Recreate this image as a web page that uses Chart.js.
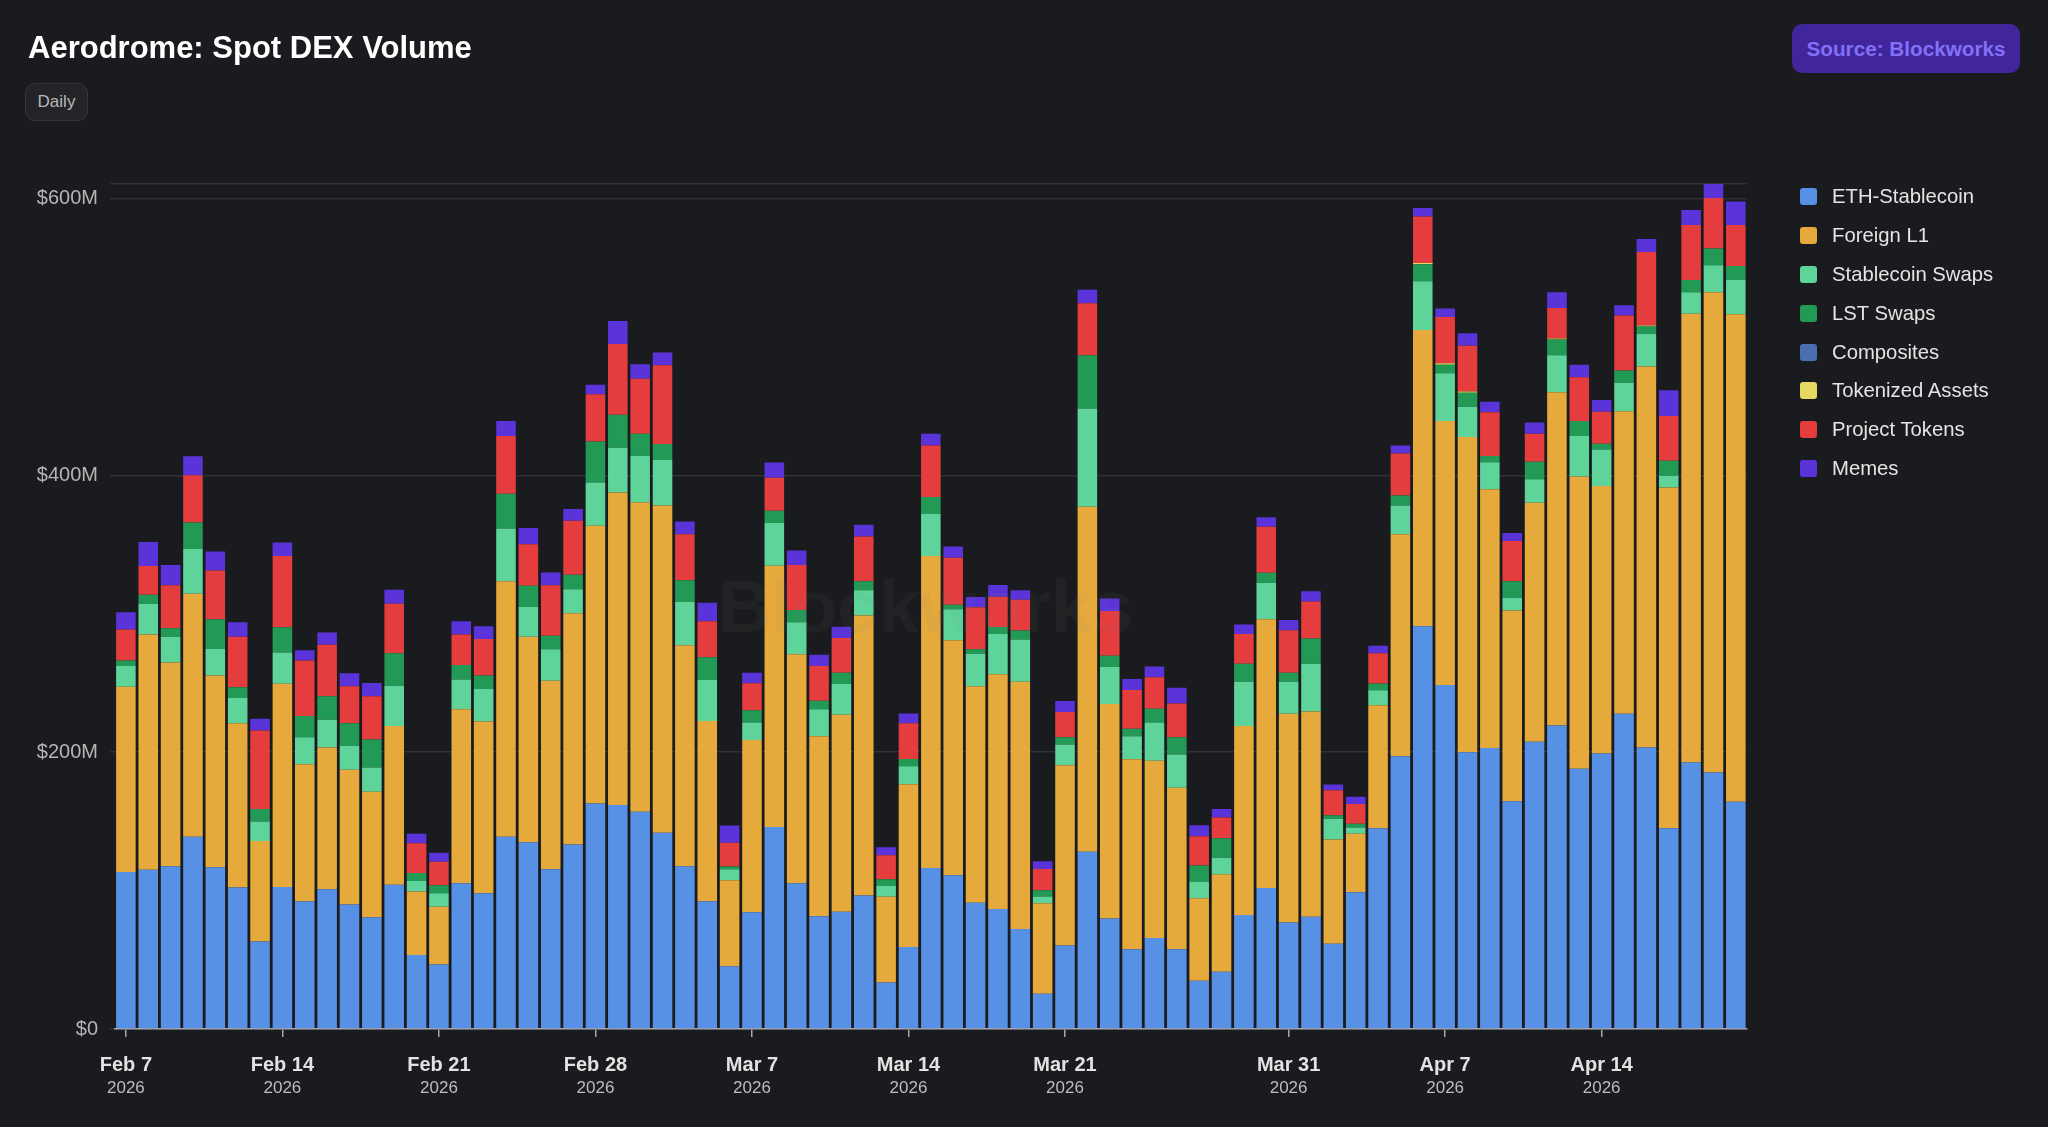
<!DOCTYPE html>
<html>
<head>
<meta charset="utf-8">
<title>Aerodrome: Spot DEX Volume</title>
<script src="https://cdn.jsdelivr.net/npm/chart.js@4"></script>
<style>
  html, body { margin: 0; padding: 0; background: #1a1b1e; }
  body { width: 2048px; height: 1127px; position: relative; overflow: hidden; font-family: "Liberation Sans", Arial, sans-serif; }
  #chart { position: absolute; left: 0; top: 0; }
  .title { position: absolute; left: 28px; top: 29px; font-size: 31px; line-height: 38px; font-weight: 700; color: #fff; }
  .daily { position: absolute; left: 25px; top: 83px; width: 61px; height: 36px; line-height: 36px; text-align: center; font-size: 17px; color: #b8b8b8; background: #232427; border: 1px solid #35373a; border-radius: 10px; }
  .source { position: absolute; left: 1792px; top: 24px; width: 228px; height: 49px; line-height: 49px; text-align: center; font-size: 20.7px; font-weight: 700; color: #8470f8; background: #40269a; border-radius: 10px; }
  .watermark { position: absolute; left: 718px; top: 562px; font-size: 74px; line-height: 90px; font-weight: 700; color: rgba(130,130,130,0.07); pointer-events: none; }
  #legend { position: absolute; left: 1800px; top: 177px; }
  .legend-row { display: flex; align-items: center; height: 38.9px; font-size: 20.3px; color: #e4e4e4; }
  .legend-box { width: 17px; height: 17px; border-radius: 3px; margin-right: 15px; }
</style>
</head>
<body>
<canvas id="chart" width="2048" height="1127"></canvas>
<div class="title">Aerodrome: Spot DEX Volume</div>
<div class="daily">Daily</div>
<div class="source">Source: Blockworks</div>
<div class="watermark">Blockworks</div>
<div id="legend"></div>
<script>
const categories = [
  "Feb 7","Feb 8","Feb 9","Feb 10","Feb 11","Feb 12","Feb 13","Feb 14","Feb 15","Feb 16","Feb 17","Feb 18","Feb 19","Feb 20",
  "Feb 21","Feb 22","Feb 23","Feb 24","Feb 25","Feb 26","Feb 27","Feb 28","Mar 1","Mar 2","Mar 3","Mar 4","Mar 5","Mar 6",
  "Mar 7","Mar 8","Mar 9","Mar 10","Mar 11","Mar 12","Mar 13","Mar 14","Mar 15","Mar 16","Mar 17","Mar 18","Mar 19","Mar 20",
  "Mar 21","Mar 22","Mar 23","Mar 24","Mar 25","Mar 26","Mar 27","Mar 28","Mar 29","Mar 30","Mar 31","Apr 1","Apr 2","Apr 3",
  "Apr 4","Apr 5","Apr 6","Apr 7","Apr 8","Apr 9","Apr 10","Apr 11","Apr 12","Apr 13","Apr 14","Apr 15","Apr 16","Apr 17",
  "Apr 18","Apr 19","Apr 20"
];

const tickLabels = ["Feb 7","Feb 14","Feb 21","Feb 28","Mar 7","Mar 14","Mar 21","Mar 31","Apr 7","Apr 14"];
const tickYear = "2026";
const yTicks = [0, 200, 400, 600];
const yMax = 610.6;

// values in $M
const ethStablecoin = [
  113.5,115.1,117.6,139,116.8,102.2,63.2,102.6,92.4,100.9,90,80.7,104.2,53.5,
  46.6,105.4,98.1,139,135,115.5,133.4,163,161.8,156.9,141.9,117.6,92.4,45.4,
  84.3,145.9,105.4,81.5,84.7,96.5,33.6,59.2,116.4,111.1,91.2,86.8,72.2,25.5,
  60.4,128.1,79.9,57.6,65.7,57.6,34.9,41.4,82.3,101.8,77,81.1,61.6,98.9,
  145.1,197,291.1,248.5,199.9,203.1,164.6,207.6,219.3,188.1,199,227.8,203.5,145.1,
  192.6,185.3,164.2
];
const foreignL1 = [
  133.8,169.9,147.2,175.5,138.6,118.8,72.6,146.8,98.9,102.6,97.3,90.8,114.7,45.8,
  41.8,125.7,124.1,184.5,148.4,136.2,167,200.7,225.8,223.8,236.3,159.7,130.1,62,
  124.5,188.9,165.4,130.1,142.3,202.3,62,117.6,225.4,169.9,156.5,169.5,178.8,65.3,
  130.1,249.3,154.9,137.4,128.1,116.8,59.6,70.5,136.6,194.2,150.8,148.4,75.4,42.2,
  88.8,160.5,214,190.9,227.8,186.9,137.8,172.7,240.8,211.2,193.4,218.5,275.3,246.1,
  324.3,347,352.3
];
const stablecoinSwaps = [
  15,22.3,18.6,32.4,19.1,18.2,14.2,22.7,19.5,19.9,17.4,17.4,29.2,7.7,
  9.7,21.5,23.5,38.1,21.5,22.7,17.4,31.2,32.4,33.6,33.2,31.2,29.6,8.1,
  12.6,30.8,23.1,19.5,22.3,18.2,7.7,13,30.4,22.3,23.5,29.2,30.4,4.9,
  15,70.9,26.8,16.6,27.6,23.9,11.8,11.8,32,26.4,23.1,34.5,15,4.5,
  10.9,20.7,35.3,34.5,21.9,19.5,9.3,17,26.8,29.2,26.4,20.7,23.5,8.5,
  15.4,19.5,24.7
];
const lstSwaps = [
  4,6.5,6.1,19.1,21.5,7.7,8.9,18.2,15.4,17,16.2,20.3,23.5,5.7,
  5.7,10.5,9.7,25.1,15.4,9.7,10.5,29.6,23.9,15.8,11.4,15.8,16.6,2,
  8.9,8.9,8.9,6.1,8.1,6.5,4.9,5.3,12.2,3.2,3.2,4.9,6.5,4.5,
  5.3,38.5,8.1,5.3,10.1,12.6,11.8,14.2,13,7.3,6.5,18.2,2.4,2.8,
  4.9,7.3,12.2,6.1,10.1,4.5,11.8,12.6,11.4,10.9,4.1,8.9,5.3,10.9,
  8.9,12.2,10.1
];
const composites = [
  0,0,0,0,0,0,0,0,0,0,0,0,0,0,
  0,0,0,0,0,0,0,0,0,0,0,0,0,0,
  0,0,0,0,0,0,0,0,0,0,0,0,0,0,
  0,0,0,0,0,0,0,0,0,0,0,0,0,0,
  0,0,0,0,0,0,0,0,0,0,0,0,0,0,
  0,0,0
];
const tokenizedAssets = [
  0,0,0,0,0,0,0,0,0,0,0,0,0,0,
  0,0,0,0,0,0,0,0,0,0,0,0,0,0,
  0,0,0,0,0,0,0,0,0,0,0,0,0,0,
  0,0,0,0,0,0,0,0,0,0,0,0,0,0,
  0,0,1,1,1,0,0,0,0.6,0,0,0,0.8,0,
  0,0,0
];
const projectTokens = [
  22.3,20.7,31.2,34.1,35.3,36.5,56.8,51.5,40.1,37.3,26.8,31.2,35.7,21.5,
  17,21.9,26.4,41.8,30,36.5,38.9,34.1,51.1,39.7,56.8,33.2,25.9,17,
  19.5,23.9,32.4,25.1,25.1,32.4,17.4,25.9,37.3,34.1,30.4,21.9,22.3,15.4,
  18.2,37.7,32.4,28,22.7,24.3,21.1,15,21.5,33.2,30.8,26.8,18.2,14.2,
  21.9,30.4,33.5,33.5,33.1,31.6,29.2,20.3,22.1,31.6,23.1,39.7,53.1,32.4,
  39.7,36.5,29.6
];
const memes = [
  12.6,17.4,14.6,13.8,13.8,10.5,8.5,9.7,7.3,8.9,9.3,9.7,10.1,6.9,
  6.5,9.7,9.3,10.9,11.8,9.3,8.5,6.9,16.6,10.5,9.3,9.3,13.4,12.6,
  7.7,10.9,10.5,8.1,8.1,8.5,5.7,6.9,8.5,8.1,7.3,8.5,6.9,5.7,
  8.1,9.7,8.9,8.1,7.7,11.4,8.1,6.1,6.9,6.9,7.3,7.3,4.1,5.3,
  5.3,5.7,6.1,6.1,8.9,7.7,5.7,8.1,11.4,8.9,8.5,7.3,9.3,18.6,
  10.9,11.8,17
];

const seriesNames = ["ETH-Stablecoin","Foreign L1","Stablecoin Swaps","LST Swaps","Composites","Tokenized Assets","Project Tokens","Memes"];
const seriesValues = [ethStablecoin, foreignL1, stablecoinSwaps, lstSwaps, composites, tokenizedAssets, projectTokens, memes];
const seriesColors = ["#5791e6","#e6a93c","#5ed49a","#229a56","#4a6fb0","#e5d962","#e53d3d","#5a34d9"];

const fontFamily = '"Liberation Sans", Arial, sans-serif';

function keepTickDates(axis) {
  axis.ticks = tickLabels.map(label => ({ value: categories.indexOf(label) }));
}

const chart = new Chart(document.getElementById("chart"), {
  type: "bar",
  data: {
    labels: categories,
    datasets: seriesNames.map((name, i) => ({
      label: name,
      data: seriesValues[i],
      backgroundColor: seriesColors[i],
      borderWidth: 0,
      barPercentage: 0.875,
      categoryPercentage: 1
    }))
  },
  options: {
    responsive: false,
    animation: false,
    layout: { padding: { top: 184, right: 301, left: 0, bottom: 0 } },
    plugins: {
      legend: { display: false },
      tooltip: { enabled: false }
    },
    scales: {
      x: {
        stacked: true,
        offset: true,
        weight: 0,
        afterBuildTicks: keepTickDates,
        afterFit: axis => { axis.height = 46; },
        grid: { offset: false, drawOnChartArea: false, color: "#a8a8a8", tickLength: 8, lineWidth: 1.5 },
        border: { color: "#a8a8a8", width: 1.5 },
        ticks: {
          autoSkip: false,
          maxRotation: 0,
          padding: 16,
          color: "#e2e2e2",
          font: { family: fontFamily, size: 20, weight: "bold" },
          callback: value => categories[value]
        }
      },
      x2: {
        type: "category",
        offset: true,
        position: "bottom",
        weight: 1,
        afterBuildTicks: keepTickDates,
        afterFit: axis => { axis.height = 52; },
        grid: { display: false, drawTicks: false },
        border: { display: false },
        ticks: {
          autoSkip: false,
          maxRotation: 0,
          padding: 3,
          color: "#bdbdbd",
          font: { family: fontFamily, size: 17 },
          callback: () => tickYear
        }
      },
      y: {
        stacked: true,
        min: 0,
        max: yMax,
        afterBuildTicks: axis => {
          axis.ticks = yTicks.concat(yMax).map(value => ({ value }));
        },
        afterFit: axis => { axis.width = 114.7; },
        grid: { color: "#303135", tickLength: 4.7, lineWidth: 1.5 },
        border: { display: false },
        ticks: {
          autoSkip: false,
          padding: 12,
          color: "#b5b5b5",
          font: { family: fontFamily, size: 20 },
          callback: value => {
            if (!yTicks.includes(value)) return "";
            return value === 0 ? "$0" : "$" + value + "M";
          }
        }
      }
    }
  }
});

const legendBox = document.getElementById("legend");
chart.data.datasets.forEach(ds => {
  const row = document.createElement("div");
  row.className = "legend-row";
  row.innerHTML = `<span class="legend-box" style="background:${ds.backgroundColor}"></span>${ds.label}`;
  legendBox.appendChild(row);
});
</script>
</body>
</html>
